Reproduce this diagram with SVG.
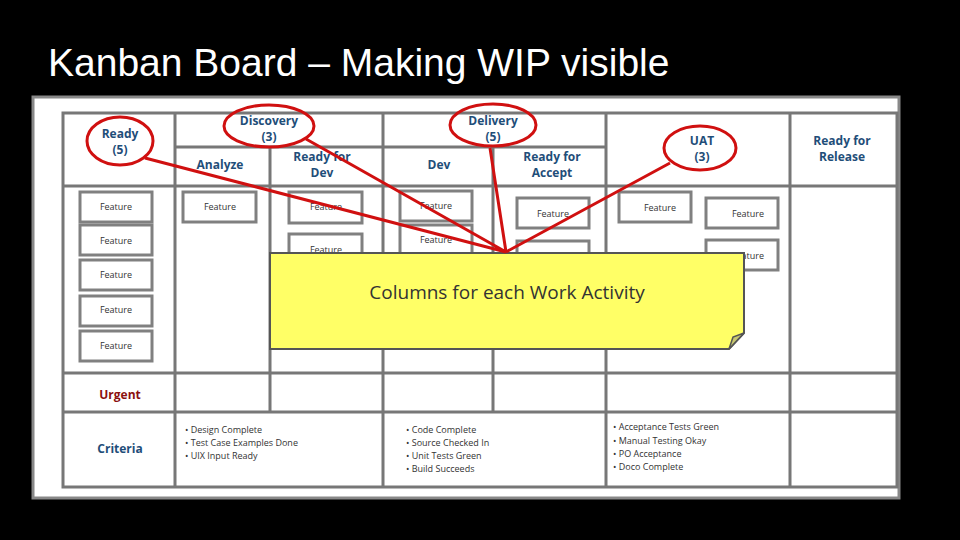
<svg xmlns="http://www.w3.org/2000/svg" width="960" height="540" viewBox="0 0 960 540">
<style>
.g{stroke:#777;stroke-width:3;fill:none}
.c{fill:#fff;stroke:#808080;stroke-width:3}
.f{font-family:"Open Sans","Liberation Sans",sans-serif;font-size:9px;fill:#333;text-anchor:middle}
.h{font-family:"Open Sans","Liberation Sans",sans-serif;font-size:12px;font-weight:bold;fill:#1f4e79;text-anchor:middle}
.b{font-family:"Open Sans","Liberation Sans",sans-serif;font-size:9px;fill:#333}
.e{fill:none;stroke:#d01010;stroke-width:3}
.r{stroke:#d01010;stroke-width:3}
</style>
<rect width="960" height="540" fill="#000"/>
<text x="48" y="76" font-family="Liberation Sans,Arial,sans-serif" font-size="39" fill="#fff">Kanban Board – Making WIP visible</text>
<rect x="33" y="97" width="866" height="401" fill="#fff" stroke="#888" stroke-width="3"/>
<g id="board">
<rect x="63" y="113" width="834" height="374" class="g"/>
<path class="g" d="M175 113V487M383 113V487M606 113V487M790 113V487M270 147V412M493 147V412M175 147H606M63 186H897M63 373H897M63 412H897"/>
</g>
<g id="headers">
<text class="h" x="120" y="138">Ready</text><text class="h" x="120" y="154">(5)</text>
<text class="h" x="269" y="125">Discovery</text><text class="h" x="269" y="141">(3)</text>
<text class="h" x="220" y="169">Analyze</text>
<text class="h" x="322" y="161">Ready for</text><text class="h" x="322" y="177">Dev</text>
<text class="h" x="493" y="125">Delivery</text><text class="h" x="493" y="141">(5)</text>
<text class="h" x="439" y="169">Dev</text>
<text class="h" x="552" y="161">Ready for</text><text class="h" x="552" y="177">Accept</text>
<text class="h" x="702" y="145">UAT</text><text class="h" x="702" y="161">(3)</text>
<text class="h" x="842" y="145">Ready for</text><text class="h" x="842" y="161">Release</text>
<text class="h" x="120" y="399" style="fill:#8b1010">Urgent</text>
<text class="h" x="120" y="453">Criteria</text>
</g>
<g id="cards">
<rect class="c" x="80" y="192" width="72" height="30"/><text class="f" x="116" y="210">Feature</text>
<rect class="c" x="80" y="225" width="72" height="30"/><text class="f" x="116" y="244">Feature</text>
<rect class="c" x="80" y="260" width="72" height="30"/><text class="f" x="116" y="278">Feature</text>
<rect class="c" x="80" y="296" width="72" height="30"/><text class="f" x="116" y="313">Feature</text>
<rect class="c" x="80" y="331" width="72" height="30"/><text class="f" x="116" y="349">Feature</text>
<rect class="c" x="183" y="192" width="73" height="30"/><text class="f" x="220" y="210">Feature</text>
<rect class="c" x="289" y="192" width="73" height="31"/><text class="f" x="326" y="210">Feature</text>
<rect class="c" x="289" y="234" width="73" height="31"/><text class="f" x="326" y="253">Feature</text>
<rect class="c" x="400" y="191" width="72" height="30"/><text class="f" x="436" y="209">Feature</text>
<rect class="c" x="400" y="225" width="72" height="30"/><text class="f" x="436" y="243">Feature</text>
<rect class="c" x="517" y="198" width="72" height="30"/><text class="f" x="553" y="217">Feature</text>
<rect class="c" x="517" y="241" width="72" height="30"/>
<rect class="c" x="619" y="192" width="72" height="30"/><text class="f" x="660" y="211">Feature</text>
<rect class="c" x="706" y="198" width="72" height="30"/><text class="f" x="748" y="217">Feature</text>
<rect class="c" x="706" y="240" width="72" height="30"/><text class="f" x="748" y="259">Feature</text>
</g>
<g id="criteria">
<text class="b" x="185" y="433">•  Design Complete</text>
<text class="b" x="185" y="446">•  Test Case Examples Done</text>
<text class="b" x="185" y="459">•  UIX Input Ready</text>
<text class="b" x="406" y="433">•  Code Complete</text>
<text class="b" x="406" y="446">•  Source Checked In</text>
<text class="b" x="406" y="459">•  Unit Tests Green</text>
<text class="b" x="406" y="472">•  Build Succeeds</text>
<text class="b" x="613" y="430">•  Acceptance Tests Green</text>
<text class="b" x="613" y="444">•  Manual Testing Okay</text>
<text class="b" x="613" y="457">•  PO Acceptance</text>
<text class="b" x="613" y="470">•  Doco Complete</text>
</g>
<g id="note">
<path d="M270 253H744V333L729 349H270Z" fill="#ffff66" stroke="#555" stroke-width="2"/>
<path d="M729 349L733 337L744 333Z" fill="#c8c870" stroke="#555" stroke-width="1.5"/>
<text x="507" y="299" font-family="Open Sans,Liberation Sans,sans-serif" font-size="19" fill="#333" text-anchor="middle">Columns for each Work Activity</text>
</g>
<g id="connectors">
<path class="r" d="M145 158L506 252M306 139L506 252M490 148L506 252M670 163L506 252"/>
<ellipse class="e" cx="120" cy="141" rx="33" ry="24"/>
<ellipse class="e" cx="269" cy="126" rx="45" ry="21"/>
<ellipse class="e" cx="493" cy="125" rx="43" ry="21"/>
<ellipse class="e" cx="700" cy="148" rx="36" ry="22"/>
</g>
</svg>
